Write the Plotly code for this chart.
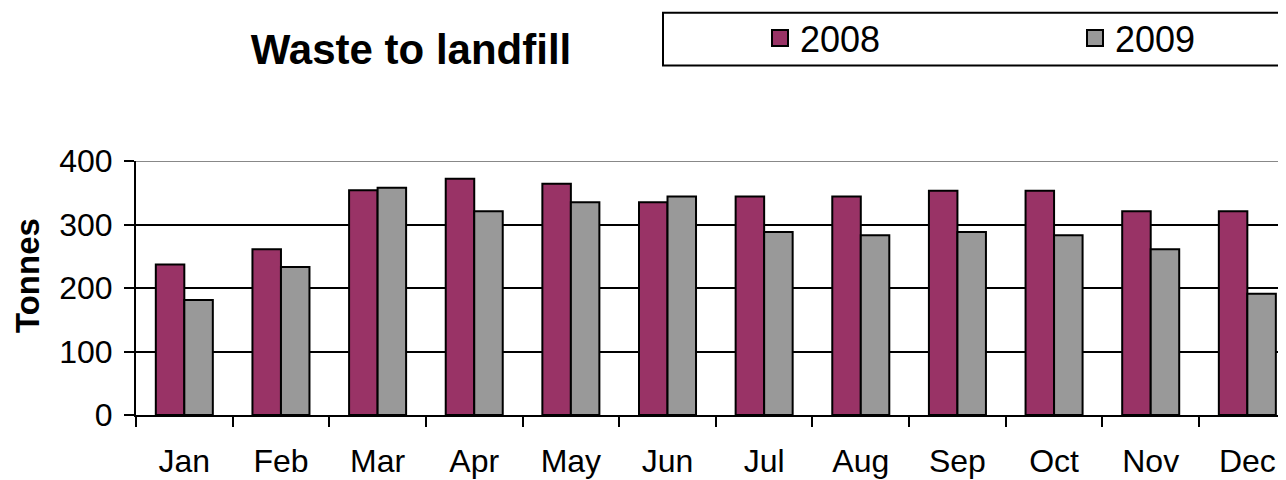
import plotly.graph_objects as go

MONTHS = ["Jan", "Feb", "Mar", "Apr", "May", "Jun",
          "Jul", "Aug", "Sep", "Oct", "Nov", "Dec"]
TONNES_2008 = [237, 261, 354, 372, 364, 335, 344, 344, 353, 353, 321, 321]
TONNES_2009 = [181, 233, 358, 321, 335, 344, 288, 283, 288, 283, 261, 191]
Y_TICKS = [0, 100, 200, 300, 400]

COLOR_2008 = "#993366"
COLOR_2009 = "#999999"
FONT = "Liberation Sans, Arial, sans-serif"

# the page body has an 8px margin, so the figure is drawn 8px in and down
W, H = 1278, 472
OFF = 8


def cx(px):
    return (px - OFF) / W


def cy(px):
    return 1 - (px - OFF) / H


fig = go.Figure()

for name, vals, col in [("2008", TONNES_2008, COLOR_2008),
                        ("2009", TONNES_2009, COLOR_2009)]:
    fig.add_trace(
        go.Bar(
            x=MONTHS,
            y=vals,
            name=name,
            showlegend=False,
            marker=dict(color=col, line=dict(color="black", width=2)),
        )
    )
    # legend-only entry so the swatch is as big as the original one
    fig.add_trace(
        go.Scatter(
            x=[None],
            y=[None],
            mode="markers",
            name=name,
            marker=dict(symbol="square", size=20, color=col,
                        line=dict(color="black", width=2)),
        )
    )

# legend frame, runs off the right edge like the original
fig.add_shape(
    type="rect",
    xref="paper", yref="paper",
    x0=(663 - 136) / 1150, x1=1.05,
    y0=1 + (160.7 - 65) / 254.6, y1=1 + (160.7 - 12) / 254.6,
    line=dict(color="black", width=2),
    fillcolor="white",
    layer="below",
)
# grey top border of the plot area
fig.add_shape(
    type="line",
    xref="paper", yref="y",
    x0=0, x1=1, y0=400, y1=400,
    line=dict(color="#888888", width=2),
)

fig.add_annotation(
    text="<b>Tonnes</b>",
    xref="paper", yref="paper",
    x=(27 - 136) / 1150, y=(415.3 - 276) / 254.6,
    xanchor="center", yanchor="middle",
    textangle=-90,
    showarrow=False,
    font=dict(family=FONT, size=33, color="black"),
)

fig.update_layout(
    width=W,
    height=H,
    margin=dict(l=136 - OFF, r=0, t=160.7 - OFF, b=64.7, autoexpand=False),
    paper_bgcolor="white",
    plot_bgcolor="white",
    font=dict(family=FONT, size=32, color="black"),
    title=dict(
        text="<b>Waste to landfill</b>",
        xref="container", yref="container",
        x=cx(411), y=cy(49),
        xanchor="center", yanchor="middle",
        font=dict(family=FONT, size=42, color="black"),
    ),
    barmode="group",
    bargap=0.41,
    bargroupgap=0,
    showlegend=True,
    legend=dict(
        orientation="h",
        xref="container", yref="container",
        x=cx(760), y=cy(38),
        xanchor="left", yanchor="middle",
        bgcolor="rgba(0,0,0,0)",
        borderwidth=0,
        entrywidth=270,
        font=dict(family=FONT, size=36, color="black"),
    ),
)

fig.update_xaxes(
    range=[-0.5, 11.4],
    automargin=False,
    showline=True, linecolor="black", linewidth=2,
    ticks="outside", tickson="boundaries", ticklen=10,
    tickwidth=2, tickcolor="black",
    ticklabelstandoff=17,
    showgrid=False,
)
fig.update_yaxes(
    range=[0, 400],
    automargin=False,
    tickvals=Y_TICKS,
    showline=True, linecolor="black", linewidth=2,
    ticks="outside", ticklen=10, tickwidth=2, tickcolor="black",
    ticklabelstandoff=5,
    showgrid=True, gridcolor="black", gridwidth=2,
    zeroline=False,
)

fig.write_html("out.html")
